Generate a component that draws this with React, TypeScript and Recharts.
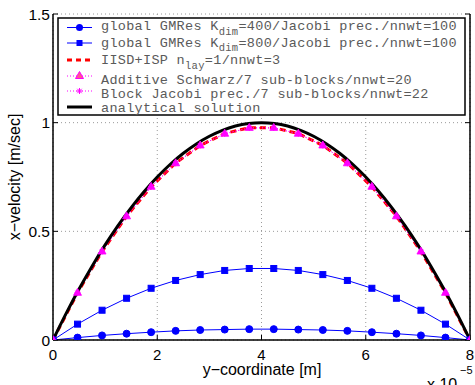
import React from "react";
import { LineChart, Line, XAxis, YAxis, CartesianGrid } from "recharts";

// y-coordinates of the discrete solution nodes (in units of 1e-5 m)
const nodeCoords = [0, 0.4706, 0.9412, 1.4118, 1.8824, 2.3529, 2.8235, 3.2941, 3.7647, 4.2353, 4.7059, 5.1765, 5.6471, 6.1176, 6.5882, 7.0588, 7.5294, 8];
const gmres400 = [0, 0.011, 0.021, 0.029, 0.036, 0.042, 0.046, 0.048, 0.05, 0.05, 0.048, 0.046, 0.042, 0.036, 0.029, 0.021, 0.011, 0];
const gmres800 = [0, 0.073, 0.137, 0.192, 0.238, 0.274, 0.301, 0.32, 0.329, 0.329, 0.32, 0.301, 0.274, 0.238, 0.192, 0.137, 0.073, 0];
const iisd = [0, 0.217, 0.407, 0.57, 0.705, 0.814, 0.895, 0.95, 0.977, 0.977, 0.95, 0.895, 0.814, 0.705, 0.57, 0.407, 0.217, 0];
const additiveSchwarz = [0, 0.217, 0.407, 0.569, 0.705, 0.813, 0.895, 0.949, 0.976, 0.976, 0.949, 0.895, 0.813, 0.705, 0.569, 0.407, 0.217, 0];
const blockJacobi = [0, 0.217, 0.407, 0.569, 0.705, 0.813, 0.895, 0.949, 0.976, 0.976, 0.949, 0.895, 0.813, 0.705, 0.569, 0.407, 0.217, 0];

const analyticalCoords = [0, 0.25, 0.5, 0.75, 1, 1.25, 1.5, 1.75, 2, 2.25, 2.5, 2.75, 3, 3.25, 3.5, 3.75, 4, 4.25, 4.5, 4.75, 5, 5.25, 5.5, 5.75, 6, 6.25, 6.5, 6.75, 7, 7.25, 7.5, 7.75, 8];
const analyticalV = [0, 0.1211, 0.2344, 0.3398, 0.4375, 0.5273, 0.6094, 0.6836, 0.75, 0.8086, 0.8594, 0.9023, 0.9375, 0.9648, 0.9844, 0.9961, 1, 0.9961, 0.9844, 0.9648, 0.9375, 0.9023, 0.8594, 0.8086, 0.75, 0.6836, 0.6094, 0.5273, 0.4375, 0.3398, 0.2344, 0.1211, 0];

const xTicks = [0, 2, 4, 6, 8];
const yTicks = [0, 0.5, 1, 1.5];

const toRows = (xs: number[], vs: number[]) => xs.map((x, i) => ({ x, v: vs[i] }));
const rows400 = toRows(nodeCoords, gmres400);
const rows800 = toRows(nodeCoords, gmres800);
const rowsIisd = toRows(nodeCoords, iisd);
const rowsAS = toRows(nodeCoords, additiveSchwarz);
const rowsBJ = toRows(nodeCoords, blockJacobi);
const rowsAn = toRows(analyticalCoords, analyticalV);

const BLUE = "#0000ff";
const MAG = "#ff00ff";

const CircleDot = (p: any) => {
  if (p.cx == null || p.cy == null) return <g key={p.index} />;
  return <circle key={p.index} cx={p.cx} cy={p.cy} r={3.5} fill={BLUE} stroke={BLUE} />;
};
const SquareDot = (p: any) => {
  if (p.cx == null || p.cy == null) return <g key={p.index} />;
  return <rect key={p.index} x={p.cx - 3} y={p.cy - 3} width={6} height={6} fill={BLUE} stroke={BLUE} />;
};
const TriDot = (p: any) => {
  if (p.cx == null || p.cy == null) return <g key={p.index} />;
  const { cx, cy } = p;
  return (
    <polygon key={p.index} points={`${cx},${cy - 4.5} ${cx - 4},${cy + 2.5} ${cx + 4},${cy + 2.5}`} fill={MAG} stroke={MAG} strokeWidth={0.8} />
  );
};
const StarDot = (p: any) => {
  if (p.cx == null || p.cy == null) return <g key={p.index} />;
  const { cx, cy } = p;
  return (
    <g key={p.index} stroke={MAG} strokeWidth={1}>
      <line x1={cx - 3} y1={cy} x2={cx + 3} y2={cy} />
      <line x1={cx} y1={cy - 3} x2={cx} y2={cy + 3} />
      <line x1={cx - 2.2} y1={cy - 2.2} x2={cx + 2.2} y2={cy + 2.2} />
      <line x1={cx - 2.2} y1={cy + 2.2} x2={cx + 2.2} y2={cy - 2.2} />
    </g>
  );
};

const blank = () => "";
const sans = "'Liberation Sans', Arial, Helvetica, sans-serif";
const mono = "'Liberation Mono', 'Courier New', monospace";
const legendText = "#5a5a5a";
const lgFont = 13.5;
const lgSpacing = 0.3;

export default function App() {
  return (
    <div style={{ position: "absolute", left: 0, top: 0, width: 475, height: 385, background: "#fff", overflow: "hidden" }}>
      <LineChart width={475} height={385} margin={{ top: 14, right: 0, bottom: 0, left: 0 }}>
        <CartesianGrid xAxisId="b" yAxisId="l" stroke="#9a9a9a" strokeDasharray="1 3" strokeWidth={1} />
        <XAxis
          xAxisId="b"
          type="number"
          dataKey="x"
          domain={[0, 8]}
          ticks={xTicks}
          allowDataOverflow
          orientation="bottom"
          height={45}
          tickSize={-5}
          tickMargin={14}
          axisLine={{ stroke: "#000", strokeWidth: 1.5 }}
          tickLine={{ stroke: "#000" }}
          tick={{ fill: "#000", fontSize: 15, fontFamily: sans }}
        />
        <XAxis
          xAxisId="t"
          type="number"
          dataKey="x"
          domain={[0, 8]}
          ticks={xTicks}
          allowDataOverflow
          orientation="top"
          height={0}
          tickSize={-5}
          tickFormatter={blank}
          axisLine={{ stroke: "#000", strokeWidth: 1.5 }}
          tickLine={{ stroke: "#000" }}
        />
        <YAxis
          yAxisId="l"
          type="number"
          domain={[0, 1.5]}
          ticks={yTicks}
          allowDataOverflow
          width={53}
          tickSize={-5}
          tickMargin={8}
          axisLine={{ stroke: "#000", strokeWidth: 1.5 }}
          tickLine={{ stroke: "#000" }}
          tick={{ fill: "#000", fontSize: 15.5, fontFamily: sans }}
        />
        <YAxis
          yAxisId="r"
          orientation="right"
          type="number"
          domain={[0, 1.5]}
          ticks={yTicks}
          allowDataOverflow
          width={5}
          tickSize={-5}
          tickFormatter={blank}
          axisLine={{ stroke: "#000", strokeWidth: 1.5 }}
          tickLine={{ stroke: "#000" }}
        />
        <Line xAxisId="b" yAxisId="l" data={rows400} dataKey="v" type="linear" stroke={BLUE} strokeWidth={1} dot={CircleDot} isAnimationActive={false} />
        <Line xAxisId="b" yAxisId="l" data={rows800} dataKey="v" type="linear" stroke={BLUE} strokeWidth={1} dot={SquareDot} isAnimationActive={false} />
        <Line xAxisId="b" yAxisId="l" data={rowsIisd} dataKey="v" type="linear" stroke="#ff0000" strokeWidth={3} strokeDasharray="6 4" dot={false} isAnimationActive={false} />
        <Line xAxisId="b" yAxisId="l" data={rowsAS} dataKey="v" type="linear" stroke={MAG} strokeWidth={1} strokeDasharray="1 2" dot={TriDot} isAnimationActive={false} />
        <Line xAxisId="b" yAxisId="l" data={rowsBJ} dataKey="v" type="linear" stroke={MAG} strokeWidth={1} strokeDasharray="1 2" dot={StarDot} isAnimationActive={false} />
        <Line xAxisId="b" yAxisId="l" data={rowsAn} dataKey="v" type="monotone" stroke="#000" strokeWidth={3} dot={false} isAnimationActive={false} />
      </LineChart>
      <svg width={475} height={385} style={{ position: "absolute", left: 0, top: 0, pointerEvents: "none" }}>
        {/* axis titles */}
        <text x={262} y={375} textAnchor="middle" fontFamily={sans} fontSize={16} fill="#000">y−coordinate [m]</text>
        <text transform="translate(20,177) rotate(-90)" textAnchor="middle" fontFamily={sans} fontSize={16} fill="#000">x−velocity [m/sec]</text>
        <text x={427} y={390} fontFamily={sans} fontSize={16} fill="#000">x 10</text>
        <text x={460} y={374} fontFamily={sans} fontSize={11} fill="#000">−5</text>
        {/* legend */}
        <rect x={58} y={18} width={407} height={97} fill="#fff" stroke="#000" strokeWidth={1.5} />
        <g fontFamily={mono} fontSize={lgFont} fill={legendText} letterSpacing={lgSpacing}>
          <line x1={67} y1={27.5} x2={92} y2={27.5} stroke={BLUE} strokeWidth={1} />
          <circle cx={79.5} cy={27.5} r={3.5} fill={BLUE} />
          <text x={101} y={30}>
            global GMRes K<tspan fontSize={10.5} dy={4.5}>dim</tspan><tspan dy={-4.5}>=400/Jacobi prec./nnwt=100</tspan>
          </text>
          <line x1={67} y1={43} x2={92} y2={43} stroke={BLUE} strokeWidth={1} />
          <rect x={76.5} y={40} width={6} height={6} fill={BLUE} />
          <text x={101} y={46.5}>
            global GMRes K<tspan fontSize={10.5} dy={4.5}>dim</tspan><tspan dy={-4.5}>=800/Jacobi prec./nnwt=100</tspan>
          </text>
          <line x1={67} y1={60} x2={92} y2={60} stroke="#ff0000" strokeWidth={3} strokeDasharray="5 4" />
          <text x={101} y={64}>
            IISD+ISP n<tspan fontSize={10.5} dy={4.5}>lay</tspan><tspan dy={-4.5}>=1/nnwt=3</tspan>
          </text>
          <line x1={67} y1={76} x2={92} y2={76} stroke={MAG} strokeWidth={1} strokeDasharray="1 2" />
          <polygon points="79.5,71.5 75.5,78.5 83.5,78.5" fill="#ff5a8c" stroke={MAG} strokeWidth={1} />
          <text x={101} y={84}>Additive Schwarz/7 sub-blocks/nnwt=20</text>
          <line x1={67} y1={91} x2={92} y2={91} stroke={MAG} strokeWidth={1} strokeDasharray="1 2" />
          <g stroke={MAG} strokeWidth={1}>
            <line x1={76.5} y1={91} x2={82.5} y2={91} />
            <line x1={79.5} y1={88} x2={79.5} y2={94} />
            <line x1={77.3} y1={88.8} x2={81.7} y2={93.2} />
            <line x1={77.3} y1={93.2} x2={81.7} y2={88.8} />
          </g>
          <text x={101} y={98}>Block Jacobi prec./7 sub-blocks/nnwt=22</text>
          <line x1={67} y1={107} x2={92} y2={107} stroke="#000" strokeWidth={3} />
          <text x={101} y={111.5}>analytical solution</text>
        </g>
      </svg>
    </div>
  );
}
